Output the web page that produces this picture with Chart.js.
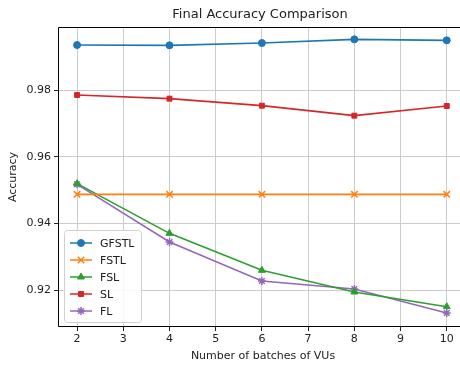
<!DOCTYPE html>
<html>
<head>
<meta charset="utf-8">
<script src="https://cdn.jsdelivr.net/npm/chart.js@4.4.0/dist/chart.umd.min.js"></script>
<style>
  html, body { margin: 0; padding: 0; background: #fff; overflow: hidden; }
  #wrap { width: 474px; height: 368px; }
  #chart { width: 474px; height: 368px; }
</style>
</head>
<body>
<!-- the plot runs past the right edge of the picture, as in the original -->
<div id="wrap"><canvas id="chart" width="474" height="368"></canvas></div>
<script>
// batches of VUs
var batches = [2, 4, 6, 8, 10];
var xTicks = [2, 3, 4, 5, 6, 7, 8, 9, 10];
var yTicks = [0.92, 0.94, 0.96, 0.98];

var gfstl = [0.9935, 0.9934, 0.9941, 0.9952, 0.9949];
var fstl  = [0.9487, 0.9487, 0.9487, 0.9487, 0.9487];
var fsl   = [0.9519, 0.9370, 0.9259, 0.9194, 0.9150];
var sl    = [0.9785, 0.9774, 0.9753, 0.9723, 0.9752];
var fl    = [0.9517, 0.9344, 0.9227, 0.9203, 0.9131];

var FONT = "'DejaVu Sans', sans-serif";

function pts(vals) {
  return vals.map(function(v, i){ return {x: batches[i], y: v}; });
}

function series(label, vals, color, style, radius) {
  return {
    label: label,
    data: pts(vals),
    borderColor: color,
    backgroundColor: color,
    pointBackgroundColor: color,
    pointBorderColor: color,
    pointStyle: style,
    pointRadius: radius,
    pointBorderWidth: style == 'crossRot' || style == 'star' ? 1.5 : 1,
    borderWidth: 1.6,
    tension: 0
  };
}

var datasets = [
  series('GFSTL', gfstl, '#1f77b4', 'circle', 3.5),
  series('FSTL', fstl, '#ff7f0e', 'crossRot', 4.5),
  series('FSL', fsl, '#2ca02c', 'triangle', 4),
  series('SL', sl, '#d62728', 'rect', 3.5),
  series('FL', fl, '#9467bd', 'star', 4)
];

// frame (left, top, bottom; the right side is cut off) + title + legend
var extras = {
  id: 'extras',
  afterDraw: function(chart) {
    var ctx = chart.ctx, a = chart.chartArea;
    ctx.save();
    ctx.strokeStyle = '#000';
    ctx.lineWidth = 1;
    ctx.beginPath();
    ctx.moveTo(chart.width, a.top + 0.5);
    ctx.lineTo(a.left + 0.5, a.top + 0.5);
    ctx.lineTo(a.left + 0.5, a.bottom - 0.5);
    ctx.lineTo(chart.width, a.bottom - 0.5);
    ctx.stroke();

    ctx.fillStyle = '#222';
    ctx.font = '13px ' + FONT;
    ctx.textAlign = 'center';
    ctx.textBaseline = 'middle';
    ctx.fillText('Final Accuracy Comparison', 260, 15);

    // legend box
    var bx = a.left + 6, by = 230, bw = 77, bh = 92;
    ctx.fillStyle = 'rgba(255,255,255,0.85)';
    ctx.strokeStyle = '#d0d0d0';
    ctx.beginPath();
    ctx.roundRect(bx + 0.5, by + 0.5, bw, bh, 3);
    ctx.fill();
    ctx.stroke();

    ctx.font = '11px ' + FONT;
    ctx.textAlign = 'left';
    chart.data.datasets.forEach(function(ds, i) {
      var y = by + 13 + i * 17;
      ctx.strokeStyle = ds.borderColor;
      ctx.lineWidth = 1.5;
      ctx.beginPath();
      ctx.moveTo(bx + 6, y);
      ctx.lineTo(bx + 28, y);
      ctx.stroke();
      ctx.fillStyle = ds.borderColor;
      ctx.lineWidth = ds.pointBorderWidth;
      Chart.helpers.drawPoint(ctx, {
        pointStyle: ds.pointStyle, radius: ds.pointRadius, rotation: 0, borderWidth: ds.pointBorderWidth
      }, bx + 17, y);
      ctx.fillStyle = '#222';
      ctx.fillText(ds.label, bx + 36, y + 1);
    });
    ctx.restore();
  }
};

new Chart(document.getElementById('chart'), {
  type: 'line',
  data: { datasets: datasets },
  options: {
    responsive: false,
    animation: false,
    layout: { padding: { top: 27, right: 1, left: 0, bottom: 0 } },
    plugins: { legend: { display: false }, title: { display: false }, tooltip: { enabled: false } },
    scales: {
      x: {
        type: 'linear',
        min: 1.587,
        max: 10.46,
        afterBuildTicks: function(s) { s.ticks = xTicks.map(function(v){ return {value: v}; }); },
        afterFit: function(s) { s.height = 41; },
        grid: { color: '#cccccc', lineWidth: 1, tickLength: 4, tickColor: '#222' },
        border: { display: false },
        ticks: { color: '#222', font: { family: FONT, size: 11 }, padding: 2, maxRotation: 0,
                 callback: function(v){ return v; } },
        title: { display: true, text: 'Number of batches of VUs', color: '#222',
                 font: { family: FONT, size: 11 }, padding: { top: 0, bottom: 5 } }
      },
      y: {
        min: 0.9089,
        max: 0.9989,
        afterBuildTicks: function(s) { s.ticks = yTicks.map(function(v){ return {value: v}; }); },
        afterFit: function(s) { s.width = 58; },
        grid: { color: '#cccccc', lineWidth: 1, tickLength: 4, tickColor: '#222' },
        border: { display: false },
        ticks: { color: '#222', font: { family: FONT, size: 11 }, padding: 3,
                 callback: function(v){ return v.toFixed(2); } },
        title: { display: true, text: 'Accuracy', color: '#222',
                 font: { family: FONT, size: 11 }, padding: { top: 7, bottom: 0 } }
      }
    }
  },
  plugins: [extras]
});
</script>
</body>
</html>
